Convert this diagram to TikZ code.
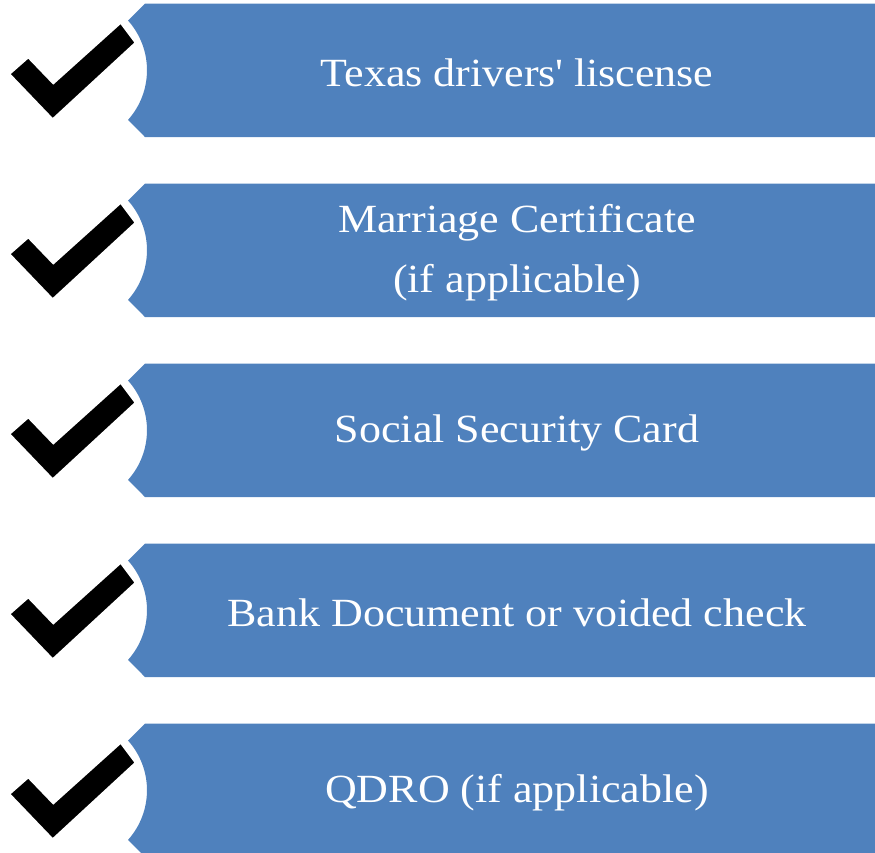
\documentclass[tikz,border=0pt]{standalone}
\usepackage{fontspec}
\setmainfont[FakeStretch=1.1]{Liberation Serif}
\usetikzlibrary{positioning}

\definecolor{barblue}{HTML}{4F81BD}

\tikzset{
  bar/.style={fill=barblue, draw=none},
  tick/.style={fill=black, draw=white, line width=2pt, line join=miter},
  bartext/.style={text=white, align=center,
    font=\fontsize{40}{60}\selectfont}
}

\begin{document}
\begin{tikzpicture}[x=1pt, y=-1pt]
  \useasboundingbox (0,0) rectangle (875,852);
  \foreach \item [count=\i from 0] in {Texas drivers\textquotesingle{} liscense,
      {Marriage Certificate\\(if applicable)},
      Social Security Card,
      Bank Document or voided check,
      QDRO (if applicable)}{
    % the bar with its notch on the left
    \pgfmathsetmacro{\t}{3.5+180*\i}
    \draw[bar] (875,\t) -- (145,\t) -- (128,\t+17)
      arc[start angle=-41.8, end angle=41.8, radius=74.6]
      -- (145,\t+133.5) -- (875,\t+133.5) -- cycle;
    % the check mark
    \draw[tick] (9.3,\t+70.5) -- (28.3,\t+53.8) -- (53.3,\t+79.8)
      -- (120.7,\t+19.2) -- (135.7,\t+39.2) -- (52.7,\t+115.8) -- cycle;
    \node[bartext] (label\i) at (517,\t+69.5) {\item};
  }
\end{tikzpicture}
\end{document}
